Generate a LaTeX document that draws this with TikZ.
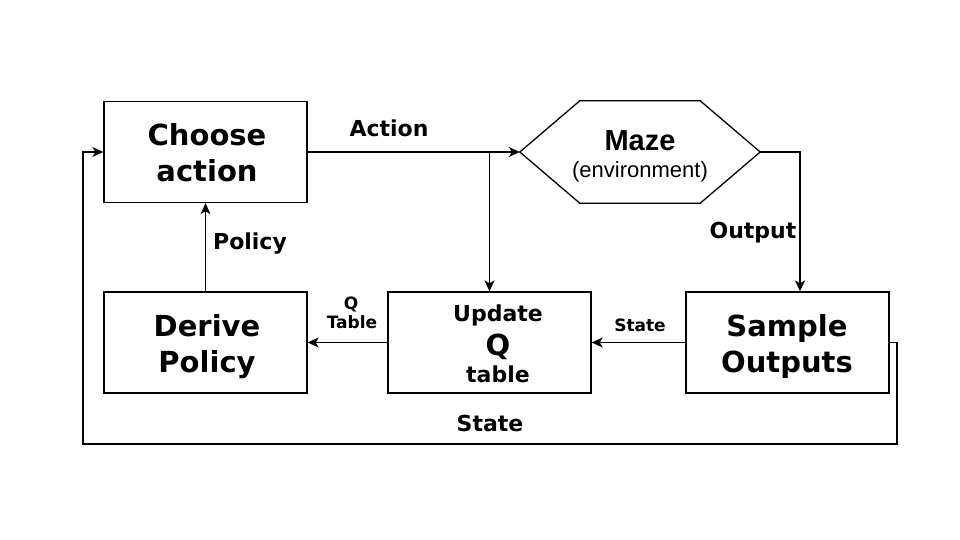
\documentclass[tikz,border=0pt]{standalone}
\usepackage{fontspec}
\setmainfont{DejaVu Sans}
\newfontfamily\arialfont{Liberation Sans}
\usetikzlibrary{arrows.meta,calc}
\tikzset{
  x=1pt, y=-1pt,
  line width=1.3pt,
  boxstyle/.style={draw, line width=1.3pt, minimum width=203pt, minimum height=101pt, inner sep=0pt},
  bigline/.style={font=\bfseries\fontsize{29}{36}\selectfont, anchor=base, inner sep=0pt},
  lbl/.style={font=\bfseries\fontsize{22}{26}\selectfont, anchor=base, inner sep=0pt},
  smalllbl/.style={font=\bfseries\fontsize{17}{20}\selectfont, anchor=base, inner sep=0pt},
  arr/.style={-{Stealth[length=11pt,width=10pt,inset=3pt]}, line width=1.3pt},
}
\begin{document}
\begin{tikzpicture}
\useasboundingbox (0,0) rectangle (960,540);
\fill[white] (0,0) rectangle (960,540);
% boxes
\node[boxstyle] (choose) at (205.5,152) {};
\node[bigline] (choose1) at (207,146) {Choose};
\node[bigline] (choose2) at (207,182) {action};
\node[boxstyle] (derive) at (205.5,342.5) {};
\node[bigline] (derive1) at (207,336) {Derive};
\node[bigline] (derive2) at (207,372) {Policy};
\node[boxstyle] (update) at (489.5,342.5) {};
\node[boxstyle] (sample) at (787.5,342.5) {};
\node[bigline] (sample1) at (787,336) {Sample};
\node[bigline] (sample2) at (787,372) {Outputs};
% update text
\node[lbl] (updt1) at (498,321) {Update};
\node[bigline] (updt2) at (498,355) {Q};
\node[lbl] (updt3) at (498,382) {table};
% maze hexagon
\node[minimum width=240pt, minimum height=102pt, inner sep=0pt] (maze) at (640,152) {};
\draw[line width=1.3pt] (maze.west) -- ($(maze.north west)+(60,0)$) -- ($(maze.north east)+(-60,0)$) -- (maze.east) -- ($(maze.south east)+(-60,0)$) -- ($(maze.south west)+(60,0)$) -- cycle;
\node[font=\arialfont\bfseries\fontsize{29}{34}\selectfont, anchor=base, inner sep=0pt] (mazet) at (640,151) {Maze};
\node[font=\arialfont\fontsize{22}{26}\selectfont, anchor=base, inner sep=0pt] (envt) at (640,178) {(environment)};
% connectors
\coordinate (br) at (897,444);
\coordinate (bl) at (83,444);
\draw[arr] (choose.east) -- (maze.west);
\draw[arr] (update.north |- choose.east) -- (update.north);
\draw[arr] (maze.east) -| ([xshift=12.5pt]sample.north);
\draw[arr] (sample.west) -- (update.east);
\draw[arr] (update.west) -- (derive.east);
\draw[arr] (derive.north) -- (choose.south);
\draw[arr] (sample.east) -| (br) -- (bl) |- (choose.west);
% labels
\node[lbl] (action) at (389,137) {Action};
\node[lbl] (output) at (753,238) {Output};
\node[lbl] (policy) at (250,249) {Policy};
\node[lbl] (state2) at (490,431) {State};
\node[smalllbl] (state1) at (640,331) {State};
\node[smalllbl] (q1) at (351,309) {Q};
\node[smalllbl] (q2) at (352,328) {Table};
\end{tikzpicture}
\end{document}
